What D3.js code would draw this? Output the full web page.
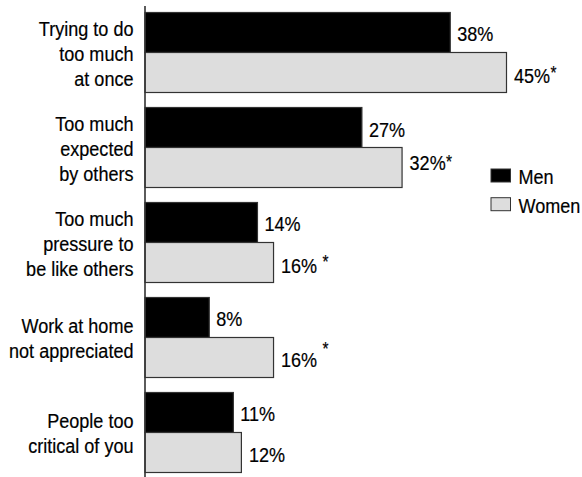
<!DOCTYPE html>
<html>
<head>
<meta charset="utf-8">
<script src="https://cdn.jsdelivr.net/npm/d3@7"></script>
<style>
  html, body { margin: 0; padding: 0; background: #fff; }
  svg { display: block; }
</style>
</head>
<body>
<svg id="chart" width="582" height="477"></svg>
<script>
// ---- data ----
const categories = [
  ["Trying to do", "too much", "at once"],
  ["Too much", "expected", "by others"],
  ["Too much", "pressure to", "be like others"],
  ["Work at home", "not appreciated"],
  ["People too", "critical of you"]
];
const seriesNames = ["Men", "Women"];
const menValues = [38, 27, 14, 8, 11];
const womenValues = [45, 32, 16, 16, 12];
const womenSignificant = [true, true, true, true, false];
const womenStarSep = ["", "", " ", " ", ""];

// ---- layout ----
const W = 582, H = 477;
const axisX = 145;
const svg = d3.select("#chart");

const FONT = "'Liberation Sans', Arial, sans-serif";
const SX = 0.86;
const FS = 21;

function addText(parent, x, y, anchor, str) {
  const g = parent.append("g").attr("transform", `translate(${x},${y}) scale(${SX},1)`);
  const t = g.append("text")
    .attr("font-family", FONT)
    .attr("font-size", FS)
    .attr("fill", "#000")
    .attr("stroke", "#000")
    .attr("stroke-width", 0.2)
    .attr("text-anchor", anchor)
    .text(str);
  return t;
}

const idx = d3.range(categories.length);
const y = d3.scaleBand().domain(idx).range([12.5, 472.5]).paddingInner(15 / 95).paddingOuter(0);
const ySub = d3.scaleBand().domain(seriesNames).range([0, y.bandwidth()]);
const x = d3.scaleLinear().domain([0, 45]).range([axisX, 506.5]);

const colors = { Men: "#000000", Women: "#dddddd" };

const rows = idx.map(i => ({ i, Men: menValues[i], Women: womenValues[i] }));

const groups = svg.append("g").selectAll("g").data(rows).join("g")
  .attr("transform", d => `translate(0,${y(d.i)})`);

groups.selectAll("rect")
  .data(d => seriesNames.map(s => ({ s, v: d[s], i: d.i })))
  .join("rect")
  .attr("x", x(0))
  .attr("y", d => ySub(d.s))
  .attr("width", d => x(d.v) - x(0))
  .attr("height", ySub.bandwidth())
  .attr("fill", d => colors[d.s])
  .attr("stroke", "#333")
  .attr("stroke-width", 1.2);

// axis line (vertical)
const yAxis = d3.axisLeft(y).tickSize(0).tickFormat("");
const axG = svg.append("g").attr("transform", `translate(${axisX},0)`).call(yAxis);
axG.select(".domain").remove();
axG.append("line").attr("x1", 0).attr("x2", 0).attr("y1", 6).attr("y2", H)
  .attr("stroke", "#333").attr("stroke-width", 1.6);

// category labels
const lineH = 25;
const labG = svg.append("g");
categories.forEach((lines, i) => {
  const cy = y(i) + y.bandwidth() / 2;
  const n = lines.length;
  lines.forEach((ln, k) => {
    addText(labG, 133.5, cy + 8 + (k - (n - 1) / 2) * lineH, "end", ln);
  });
});

// value labels
const menDy = [8, 9, 8, 8.5, 8];
const womenDy = [10.8, 2.5, 10, 9, 9];
const starRaise = [4.5, 2, 4.5, 12, 0];
const valG = svg.append("g");
idx.forEach(i => {
  const cyM = y(i) + ySub("Men") + ySub.bandwidth() / 2;
  const cyW = y(i) + ySub("Women") + ySub.bandwidth() / 2;
  addText(valG, x(menValues[i]) + 7, cyM + menDy[i], "start", menValues[i] + "%");
  const t = addText(valG, x(womenValues[i]) + 7.5, cyW + womenDy[i], "start", womenValues[i] + "%");
  if (womenSignificant[i]) {
    t.append("tspan").text(womenStarSep[i]);
    t.append("tspan").attr("font-size", 18).attr("dy", -starRaise[i]).attr("dx", 0.5).text("*");
  }
});

// legend
const leg = svg.append("g");
seriesNames.forEach((s, k) => {
  const ly = 169 + k * 28.7;
  leg.append("rect").attr("x", 491).attr("y", ly).attr("width", 19.5).attr("height", 13)
    .attr("fill", colors[s]).attr("stroke", "#333").attr("stroke-width", 1);
  addText(leg, 518.5, ly + 15.3, "start", s);
});
</script>
</body>
</html>
